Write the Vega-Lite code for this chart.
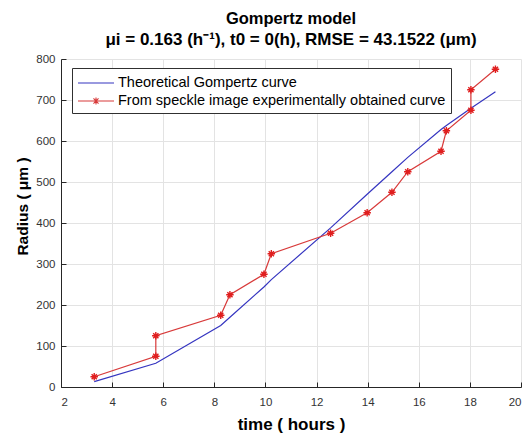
{
  "$schema": "https://vega.github.io/schema/vega-lite/v6.json",
  "width": 460,
  "height": 328,
  "autosize": "none",
  "padding": {"left": 61, "top": 59, "right": 11, "bottom": 48},
  "config": {"view": {"stroke": null}, "font": "Liberation Sans"},
  "title": {
    "text": "Gompertz model",
    "subtitle": "μi = 0.163 (h⁻¹), t0 = 0(h), RMSE = 43.1522 (μm)",
    "font": "Liberation Sans",
    "subtitleFont": "Liberation Sans",
    "fontSize": 16.5,
    "subtitleFontSize": 17,
    "fontWeight": "bold",
    "subtitleFontWeight": "bold",
    "color": "#000000",
    "subtitleColor": "#000000",
    "anchor": "middle",
    "offset": 5,
    "subtitlePadding": 5
  },
  "datasets": {
    "theo": [
      {"t": 3.3, "r": 13}, {"t": 5.71, "r": 58}, {"t": 8.25, "r": 150}, {"t": 8.61, "r": 170},
      {"t": 9.94, "r": 244}, {"t": 10.23, "r": 262}, {"t": 12.55, "r": 388}, {"t": 13.98, "r": 470},
      {"t": 14.95, "r": 525}, {"t": 15.57, "r": 560}, {"t": 16.87, "r": 628}, {"t": 17.08, "r": 638},
      {"t": 18.04, "r": 680}, {"t": 19.0, "r": 720}
    ],
    "exp": [
      {"i": 1, "t": 3.3, "r": 25}, {"i": 2, "t": 5.71, "r": 75}, {"i": 3, "t": 5.71, "r": 125},
      {"i": 4, "t": 8.25, "r": 175}, {"i": 5, "t": 8.61, "r": 225}, {"i": 6, "t": 9.94, "r": 275},
      {"i": 7, "t": 10.23, "r": 325}, {"i": 8, "t": 12.55, "r": 375}, {"i": 9, "t": 13.98, "r": 425},
      {"i": 10, "t": 14.95, "r": 475}, {"i": 11, "t": 15.57, "r": 525}, {"i": 12, "t": 16.87, "r": 575},
      {"i": 13, "t": 17.08, "r": 625}, {"i": 14, "t": 18.04, "r": 675}, {"i": 15, "t": 18.04, "r": 725},
      {"i": 16, "t": 19.0, "r": 775}
    ],
    "legend": [
      {"series": "Theoretical Gompertz curve", "t": 2, "r": 0},
      {"series": "From speckle image experimentally obtained curve", "t": 2, "r": 0}
    ]
  },
  "encoding": {
    "x": {
      "field": "t", "type": "quantitative",
      "scale": {"domain": [2, 20], "nice": false, "zero": false},
      "axis": {
        "title": "time ( hours )", "values": [2, 4, 6, 8, 10, 12, 14, 16, 18, 20],
        "grid": true, "gridColor": "#e3e3e3", "domainColor": "#262626", "tickColor": "#262626",
        "tickSize": -5, "labelPadding": 14, "labelFontSize": 11.5, "labelColor": "#333333",
        "labelFont": "Liberation Sans", "titleFont": "Liberation Sans", "titleFontSize": 17,
        "titleFontWeight": "bold", "titleColor": "#000000", "titlePadding": 9
      }
    },
    "y": {
      "field": "r", "type": "quantitative",
      "scale": {"domain": [0, 800], "nice": false},
      "axis": {
        "title": "Radius ( μm )", "values": [0, 100, 200, 300, 400, 500, 600, 700, 800],
        "grid": true, "gridColor": "#e3e3e3", "domainColor": "#262626", "tickColor": "#262626",
        "tickSize": -5, "labelPadding": 11, "labelFontSize": 11.5, "labelColor": "#333333",
        "labelFont": "Liberation Sans", "titleFont": "Liberation Sans", "titleFontSize": 15.5,
        "titleFontWeight": "bold", "titleColor": "#000000", "titlePadding": 5, "titleY": 147
      }
    }
  },
  "layer": [
    {
      "data": {"name": "theo"},
      "mark": {"type": "line", "color": "#3535c0", "strokeWidth": 1.2},
      "encoding": {}
    },
    {
      "data": {"name": "exp"},
      "mark": {"type": "line", "color": "#d83a3a", "strokeWidth": 1.2},
      "encoding": {"order": {"field": "i", "type": "quantitative"}}
    },
    {
      "data": {"name": "exp"},
      "mark": {
        "type": "point", "filled": false, "color": "#e01e1e", "strokeWidth": 1.4, "size": 56, "opacity": 1,
        "shape": "M-1,0L1,0M0,-1L0,1M-0.7,-0.7L0.7,0.7M-0.7,0.7L0.7,-0.7"
      }
    },
    {
      "data": {"name": "legend"},
      "transform": [{"filter": "datum.r > 1"}],
      "mark": {"type": "point", "filled": false, "opacity": 1, "strokeWidth": 1},
      "encoding": {
        "color": {
          "field": "series", "type": "nominal",
          "scale": {
            "domain": ["Theoretical Gompertz curve", "From speckle image experimentally obtained curve"],
            "range": ["#3535c0", "#d83a3a"]
          },
          "legend": {
            "orient": "none", "legendX": 11, "legendY": 9, "title": null,
            "strokeColor": "#303030", "fillColor": "#ffffff", "padding": 5,
            "labelFont": "Liberation Sans", "labelFontSize": 14.5, "labelColor": "#000000", "labelLimit": 0,
            "symbolSize": 324, "symbolStrokeWidth": 1.1, "rowPadding": 1, "labelOffset": 21
          }
        },
        "shape": {
          "field": "series", "type": "nominal",
          "scale": {
            "domain": ["Theoretical Gompertz curve", "From speckle image experimentally obtained curve"],
            "range": [
              "M-1,0L3,0",
              "M-1,0L3,0M1,-0.4L1,0.4M0.72,-0.28L1.28,0.28M0.72,0.28L1.28,-0.28"
            ]
          },
          "legend": {
            "orient": "none", "legendX": 11, "legendY": 9, "title": null,
            "strokeColor": "#303030", "fillColor": "#ffffff", "padding": 5,
            "labelFont": "Liberation Sans", "labelFontSize": 14.5, "labelColor": "#000000", "labelLimit": 0,
            "symbolSize": 324, "symbolStrokeWidth": 1.1, "rowPadding": 1, "labelOffset": 21
          }
        }
      }
    }
  ]
}
